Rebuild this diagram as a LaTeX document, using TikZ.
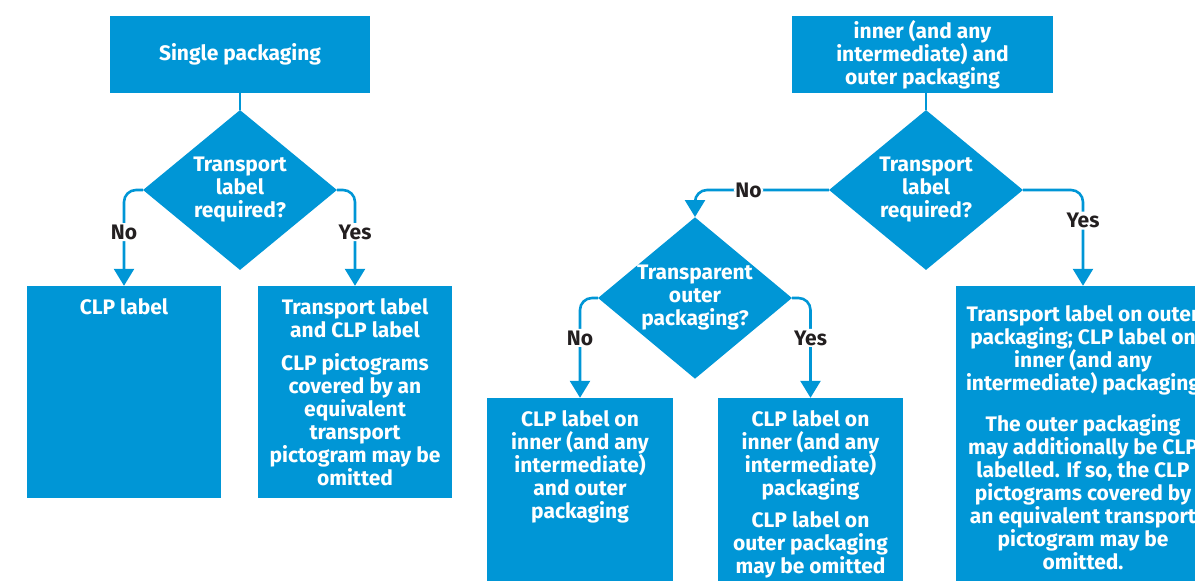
\documentclass[tikz,border=0pt]{standalone}
\usepackage{fontspec}
\setmainfont{Fira Sans}
\usepackage{xcolor}
\usetikzlibrary{shapes.geometric,arrows.meta,positioning}
\definecolor{clpblue}{RGB}{0,150,214}
\definecolor{answerink}{RGB}{35,31,32}

\begin{document}
\begin{tikzpicture}[x=1pt, y=-1pt,
  every node/.style={font=\bfseries\fontsize{21}{23}\selectfont, align=center},
  box/.style={rectangle, fill=clpblue, text=white, inner sep=0pt},
  boxtext/.style={text=white, anchor=north, inner sep=0pt},
  question/.style={diamond, fill=clpblue, text=white, inner sep=0pt,
                   aspect=1.2, minimum width=194pt, minimum height=160pt},
  link/.style={draw=clpblue, line width=2.6pt, rounded corners=12pt},
  arrowlink/.style={link, -{Triangle[length=17pt,width=20pt]}},
  answer/.style={fill=white, text=answerink, inner sep=1.5pt}]
\useasboundingbox (0,0) rectangle (1195,581);

% left chart: single packaging
\node[box, minimum width=260pt, minimum height=77pt] (single) at (240,54.5) {Single packaging};
\node[question] (q1) at (240,190) {Transport\\label\\required?};
\node[box, minimum width=194pt, minimum height=212pt] (clp) at (124,392) {};
\node[boxtext, below=13pt of clp.north] (clptxt) {CLP label};
\node[box, minimum width=194pt, minimum height=212pt] (both) at (355,392) {};
\node[boxtext, below=13pt of both.north] (bothtxt)
  {Transport label\\and CLP label\\[10pt]CLP pictograms\\covered by an\\equivalent\\transport\\pictogram may be\\omitted};

% right chart: combination packaging
\node[box, minimum width=261pt, minimum height=77pt] (combi) at (922.5,54.5)
  {inner (and any\\intermediate) and\\outer packaging};
\node[question] (q2) at (926,190) {Transport\\label\\required?};
\node[question] (q3) at (695,298) {Transparent\\outer\\packaging?};
\node[box, minimum width=186pt, minimum height=204pt] (opaque) at (580,500) {};
\node[boxtext, below=13pt of opaque.north] (opaquetxt)
  {CLP label on\\inner (and any\\intermediate)\\and outer\\packaging};
\node[box, minimum width=185pt, minimum height=204pt] (clear) at (810.5,500) {};
\node[boxtext, below=13pt of clear.north] (cleartxt)
  {CLP label on\\inner (and any\\intermediate)\\packaging\\[9pt]CLP label on\\outer packaging\\may be omitted};
\node[box, minimum width=254pt, minimum height=316pt] (outer) at (1083,444) {};
\node[boxtext, below=20pt of outer.north] (outertxt)
  {Transport label on outer\\packaging; CLP label on\\inner (and any\\intermediate) packaging\\[18pt]The outer packaging\\may additionally be CLP\\labelled. If so, the CLP\\pictograms covered by\\an equivalent transport\\pictogram may be\\omitted.};

% connectors
\draw[link] (single.south) -- (q1.north);
\draw[arrowlink] (q1.west) -| node[answer, pos=.72] (no1) {No} (clp.north);
\draw[arrowlink] (q1.east) -| node[answer, pos=.72] (yes1) {Yes} (both.north);
\draw[link] (q2.north |- combi.south) -- (q2.north);
\draw[arrowlink] (q2.west) -| node[answer, pos=.3] (no2) {No} (q3.north);
\draw[arrowlink] (q2.east) -| node[answer, pos=.66] (yes2) {Yes} (outer.north);
\draw[arrowlink] (q3.west) -| node[answer, pos=.7] (no3) {No} (opaque.north);
\draw[arrowlink] (q3.east) -| node[answer, pos=.7] (yes3) {Yes} (clear.north);
\end{tikzpicture}
\end{document}
